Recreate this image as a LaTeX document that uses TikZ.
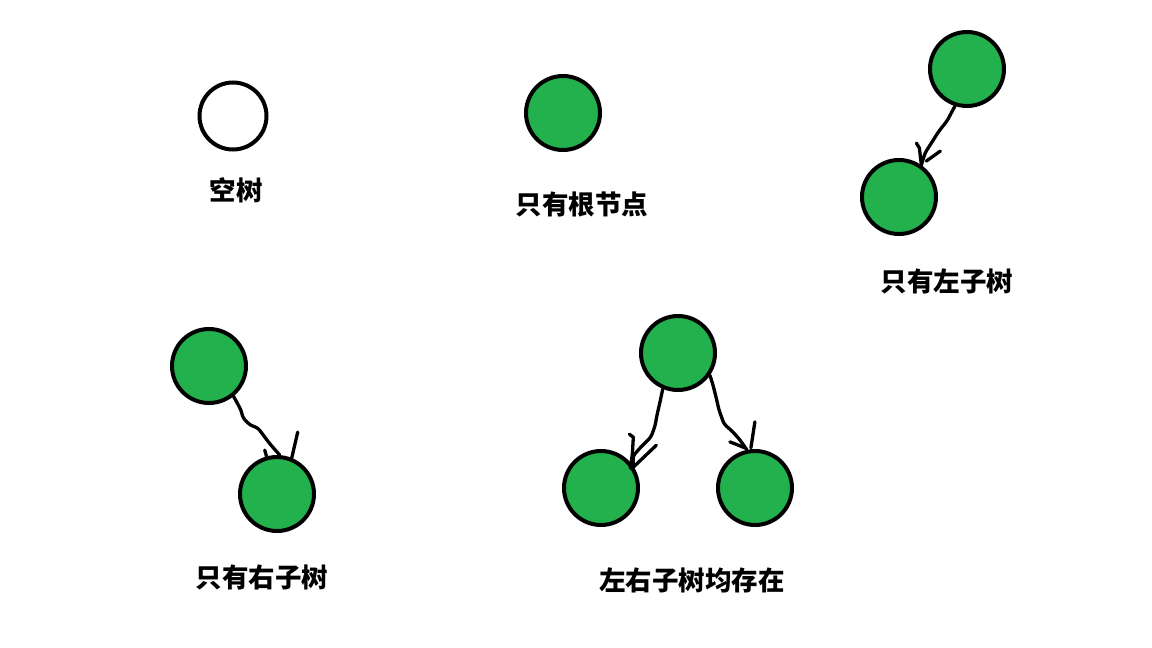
\documentclass[tikz,border=0pt]{standalone}
\usepackage{fontspec}
\usetikzlibrary{calc}
\newfontfamily\cjk{Noto Sans CJK SC}
\definecolor{paintgreen}{HTML}{22B14C}
\tikzset{
  tnode/.style={circle, draw=black, line width=4pt, fill=paintgreen, minimum size=74pt, inner sep=0pt},
  enode/.style={circle, draw=black, line width=4pt, fill=white, minimum size=67pt, inner sep=0pt},
  lbl/.style={font=\cjk\bfseries\fontsize{26.5}{30}\selectfont, inner sep=0pt},
  wob/.style={line width=3.3pt, line cap=round, line join=round, rounded corners=3pt},
  headstroke/.style={line width=3.3pt, line cap=round, line join=round}
}
\begin{document}
\begin{tikzpicture}[x=1pt,y=-1pt]
\useasboundingbox (0,0) rectangle (1152,648);
% nodes
\node[enode] (e) at (233,116) {};
\node[tnode] (r) at (563,113) {};
\node[tnode] (a1) at (967,69) {};
\node[tnode] (a2) at (899,197) {};
\node[tnode] (b1) at (209,366) {};
\node[tnode] (b2) at (277,494) {};
\node[tnode] (c1) at (678,353) {};
\node[tnode] (c2) at (601,488) {};
\node[tnode] (c3) at (755,488) {};
% labels
\node[lbl] (le) at (236,190) {空树};
\node[lbl] (lr) at (582,204) {只有根节点};
\node[lbl] (la) at (947,281) {只有左子树};
\node[lbl] (lb) at (262,577) {只有右子树};
\node[lbl] (lc) at (692,580) {左右子树均存在};
% connectors
\coordinate (ta) at (a2.55);
\draw[wob] (a1.252) -- (947,121) -- (939,131) -- (932,142) -- (925,153) -- (ta);
\draw[headstroke] ($(ta)+(-5,-22)$) -- ($(ta)+(-2,-17)$) -- (ta);
\draw[headstroke] ($(ta)+(19,-14)$) -- ($(ta)+(5,-4)$);

\coordinate (tb) at (b2.86);
\draw[wob] (b1.309) -- (241,410) -- (243,418) -- (250,425) -- (258,428) -- (264,436) -- (270,444) -- (tb);
\draw[headstroke] ($(tb)+(-15,-5)$) -- ($(tb)+(-13,2)$);
\draw[headstroke] ($(tb)+(18,-23)$) -- ($(tb)+(15,-10)$) -- ($(tb)+(12,3)$);

\coordinate (tc) at (c2.34);
\draw[wob] (c1.247) -- (660,402) -- (657,415) -- (655,426) -- (651,437) -- (640,448) -- (633,456) -- (tc);
\draw[headstroke] ($(tc)+(-4,-32)$) -- ($(tc)+(0,-29)$) -- ($(tc)+(-1,-12)$) -- ($(tc)+(-3,2)$);
\draw[headstroke] ($(tc)+(23,-21)$) -- ($(tc)+(0,1)$);

\coordinate (td) at (c3.102);
\draw[wob] (c1.325) -- (713,385) -- (716,397) -- (719,410) -- (724,424) -- (733,432) -- (740,440) -- (td);
\draw[headstroke] ($(td)+(-17,-8)$) -- ($(td)+(-2,-2)$);
\draw[headstroke] ($(td)+(8,-28)$) -- ($(td)+(6,-15)$) -- ($(td)+(4,-2)$);
\end{tikzpicture}
\end{document}
